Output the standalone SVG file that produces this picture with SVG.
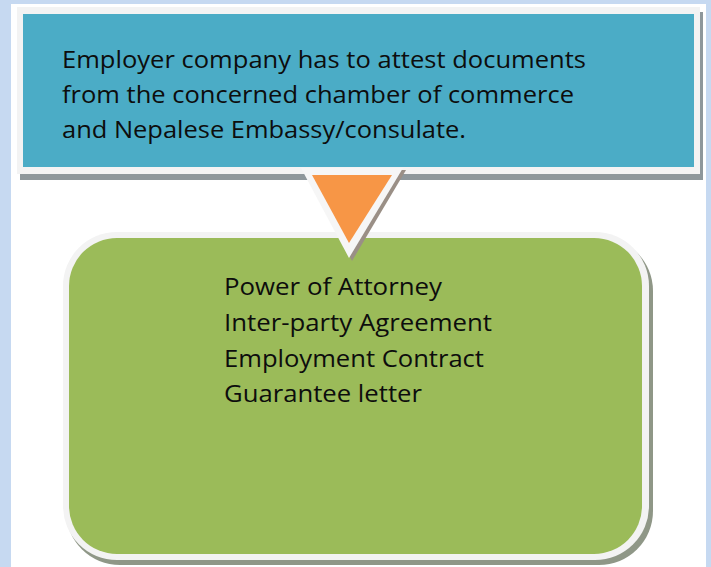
<svg xmlns="http://www.w3.org/2000/svg" width="711" height="567" viewBox="0 0 711 567">
<style>
.t{font-family:"Open Sans","Noto Sans","Liberation Sans",sans-serif;font-size:23px;fill:#0d0d0d}
.frame{fill:#f3f3f3}
.shadow{fill:#8e979b}
</style>
<rect x="0" y="0" width="711" height="567" fill="#c6d9f1"/>
<rect x="11" y="4" width="695" height="563" fill="#ffffff"/>
<g id="attest-box">
  <rect class="shadow" x="20" y="12" width="683" height="168"/>
  <rect class="frame" x="17" y="7" width="683" height="167"/>
  <rect x="23" y="14" width="671" height="153" fill="#4bacc6"/>
  <text class="t" x="62" y="68" textLength="524" lengthAdjust="spacingAndGlyphs">Employer company has to attest documents</text>
  <text class="t" x="62" y="103" textLength="512" lengthAdjust="spacingAndGlyphs">from the concerned chamber of commerce</text>
  <text class="t" x="62" y="138" textLength="404" lengthAdjust="spacingAndGlyphs">and Nepalese Embassy/consulate.</text>
</g>
<g id="documents-box">
  <rect x="66" y="237" width="587" height="328" rx="54" fill="#8f9787"/>
  <rect class="frame" x="63" y="232" width="586" height="328" rx="54"/>
  <rect x="69" y="238" width="573" height="316" rx="48" fill="#9bbb59"/>
  <text class="t" x="224" y="295" textLength="218" lengthAdjust="spacingAndGlyphs">Power of Attorney</text>
  <text class="t" x="224" y="331" textLength="268" lengthAdjust="spacingAndGlyphs">Inter-party Agreement</text>
  <text class="t" x="224" y="367" textLength="260" lengthAdjust="spacingAndGlyphs">Employment Contract</text>
  <text class="t" x="224" y="402" textLength="198" lengthAdjust="spacingAndGlyphs">Guarantee letter</text>
</g>
<g id="connectors">
  <polygon points="305,170 406,170 352,261" fill="#9a8f86"/>
  <polygon points="301,168 403,168 349,258" fill="#f6f6f6"/>
  <polygon points="312,175 392,175 349,243" fill="#f79646"/>
</g>
</svg>
